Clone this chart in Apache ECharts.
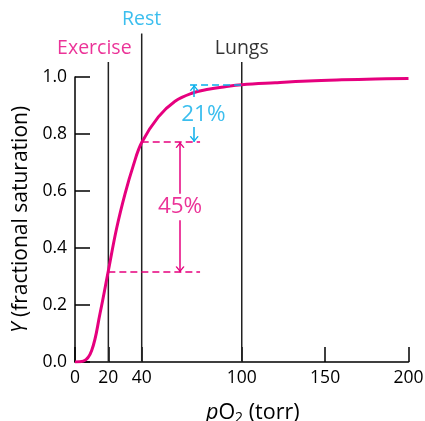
<!DOCTYPE html>
<html><head><meta charset="utf-8">
<script src="https://cdn.jsdelivr.net/npm/echarts@6/dist/echarts.min.js"></script>
<style>html,body{margin:0;padding:0;background:#fff}#c{width:425px;height:421px}</style>
</head><body><div id="c"></div>
<script>
// ---- data ----
const pO2 = [0, 5, 10, 15, 20, 25, 30, 35, 40, 50, 60, 70, 80, 90, 100, 120, 140, 160, 180, 200];
const saturation = [0, 0.003, 0.04, 0.17, 0.32, 0.47, 0.59, 0.69, 0.77, 0.86, 0.915, 0.943, 0.957, 0.966, 0.973, 0.980, 0.986, 0.990, 0.993, 0.995];
const xTickValues = [0, 20, 40, 100, 150, 200];
const yTickValues = [0, 0.2, 0.4, 0.6, 0.8, 1.0];
const markerX = [20, 40, 100];
const markerLabels = ['Exercise', 'Rest', 'Lungs'];
const markerTop = [1.0525, 1.153, 1.0525];
const exerciseSat = 0.315;
const restSat = 0.772;
const lungsSat = 0.972;
const exerciseDropLabel = '45%';
const restDropLabel = '21%';

// ---- styles ----
const MAG = '#e6007e', CYAN = '#0aaeea', INK = '#000', LINE = '#222';
const FONT = 'Open Sans';
const chevron = 'path://M5,10 L10,19 L8.6,20 L5,13.5 L1.4,20 L0,19 Z M5,0 L5.01,0 L5,0.01 Z';

function arrow(x, from, to) {
  return [{ coord: [x, from], symbol: 'none' }, { coord: [x, to], symbol: chevron, symbolSize: [9, 12] }];
}
function dashed(x0, x1, y) {
  return [{ coord: [x0, y], symbol: 'none', lineStyle: { type: [7, 4] } }, { coord: [x1, y], symbol: 'none' }];
}

const markerColors = [MAG, CYAN, INK];
const markerOffsets = [[-14, 0], [0, 0], [0, 0]];

const series = [];
markerX.forEach((x, i) => {
  series.push({
    type: 'line', data: [[x, 0], [x, markerTop[i]]], clip: false, silent: true,
    symbol: 'none', lineStyle: { color: LINE, width: 1.5 }, z: 2
  });
});
series.push({
  type: 'scatter', clip: false, silent: true, symbolSize: 1, itemStyle: { color: 'transparent' },
  data: markerX.map((x, i) => ({
    value: [x, markerTop[i]],
    label: { show: true, position: 'top', distance: 3, formatter: markerLabels[i], color: markerColors[i], offset: markerOffsets[i] }
  })),
  label: { fontFamily: FONT, fontSize: 19.5 }, z: 5
});
series.push({
  type: 'line', data: pO2.map((p, i) => [p, saturation[i]]), smooth: 0.4, symbol: 'none',
  lineStyle: { color: MAG, width: 3 }, z: 4, silent: true
});
// annotations
series.push({
  type: 'line', data: [], silent: true,
  markLine: {
    silent: true, animation: false, label: { show: false },
    lineStyle: { color: MAG, width: 1.5, type: 'solid' },
    data: [
      dashed(20, 75, exerciseSat),
      dashed(40, 75, restSat),
      arrow(63, 0.59, restSat),
      arrow(63, 0.497, exerciseSat)
    ]
  }
});
series.push({
  type: 'line', data: [], silent: true,
  markLine: {
    silent: true, animation: false, label: { show: false },
    lineStyle: { color: CYAN, width: 1.5, type: 'solid' },
    data: [
      dashed(69, 100, lungsSat),
      arrow(71.5, 0.93, lungsSat),
      arrow(71.5, 0.825, restSat)
    ]
  }
});
series.push({
  type: 'scatter', silent: true, symbolSize: 1, itemStyle: { color: 'transparent' },
  data: [
    { value: [63, 0.545], label: { formatter: exerciseDropLabel, color: MAG } },
    { value: [77, 0.868], label: { formatter: restDropLabel, color: CYAN } }
  ],
  label: { show: true, position: 'inside', fontFamily: FONT, fontSize: 22.5 }, z: 6
});

const chart = echarts.init(document.getElementById('c'), null, { renderer: 'canvas' });
chart.setOption({
  animation: false,
  backgroundColor: '#fff',
  grid: { left: 75, right: 16.5, top: 77, bottom: 59, containLabel: false, outerBoundsMode: 'none' },
  xAxis: {
    type: 'value', min: 0, max: 200,
    name: '{i|p}O{s|2} (torr)', nameLocation: 'middle', nameGap: 39,
    nameTextStyle: {
      fontFamily: FONT, fontSize: 21.5, color: INK, padding: [0, 0, 0, 22],
      rich: { i: { fontStyle: 'italic', fontSize: 21.5, fontFamily: FONT, color: INK },
              s: { fontSize: 14, fontFamily: FONT, color: INK, padding: [10, 0, 0, 0] } }
    },
    axisLine: { lineStyle: { color: INK, width: 1.5 } },
    axisTick: { inside: true, length: 15, customValues: xTickValues, lineStyle: { color: INK, width: 1.5 } },
    axisLabel: { customValues: xTickValues, fontFamily: FONT, fontSize: 17.5, color: INK, margin: 7 },
    splitLine: { show: false }
  },
  yAxis: {
    type: 'value', min: 0, max: 1,
    name: '{i|Y} (fractional saturation)', nameLocation: 'middle', nameGap: 42, nameRotate: 90,
    nameTextStyle: {
      fontFamily: FONT, fontSize: 21, color: INK,
      rich: { i: { fontStyle: 'italic', fontSize: 21, fontFamily: FONT, color: INK } }
    },
    axisLine: { show: true, lineStyle: { color: INK, width: 1.5 } },
    axisTick: { show: true, inside: true, length: 15, customValues: yTickValues, lineStyle: { color: INK, width: 1.5 } },
    axisLabel: { customValues: yTickValues, formatter: v => v.toFixed(1), fontFamily: FONT, fontSize: 17.5, color: INK, margin: 8 },
    splitLine: { show: false }
  },
  series: series
});
</script></body></html>
